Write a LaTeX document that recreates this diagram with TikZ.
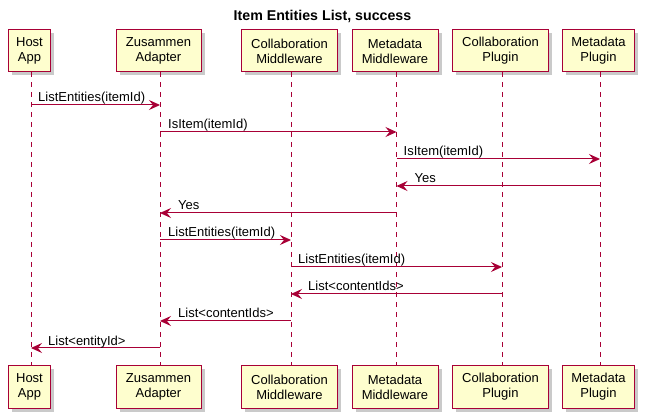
\documentclass[tikz,border=0pt]{standalone}
\usepackage{fontspec}
\setmainfont{Liberation Sans}
\usetikzlibrary{arrows.meta,shadows}
\definecolor{pred}{HTML}{A80036}
\definecolor{pfill}{HTML}{FEFECE}
\begin{document}
\begin{tikzpicture}[x=1pt,y=-1pt,
  part/.style={draw=pred, fill=pfill, line width=1pt, minimum height=42pt, inner sep=0pt,
    align=center, font=\fontsize{13}{15}\selectfont,
    general shadow={fill=black!35, opacity=.6, shadow xshift=3.5pt, shadow yshift=-3.5pt}},
  life/.style={draw=pred, line width=0.8pt, dash pattern=on 5pt off 5pt},
  msg/.style={draw=pred, line width=1pt, -{Stealth[length=11pt,width=10pt,inset=4pt]}},
  lbl/.style={font=\fontsize{13}{15}\selectfont, inner sep=0pt, anchor=base west}]
\useasboundingbox (0,0) rectangle (645,419);
\node[font=\bfseries\fontsize{14.2}{16}\selectfont] (title) at (322.5,16) {Item Entities List, success};
% top participants
\node[part, minimum width=42pt] (hT) at (29.5,51) {Host\\App};
\node[part, minimum width=85pt] (zT) at (158.5,51) {Zusammen\\Adapter};
\node[part, minimum width=96pt] (cmT) at (289.5,51) {Collaboration\\Middleware};
\node[part, minimum width=86pt] (mmT) at (395,51) {Metadata\\Middleware};
\node[part, minimum width=96pt] (cpT) at (500.5,51) {Collaboration\\Plugin};
\node[part, minimum width=72pt] (mpT) at (598.5,51) {Metadata\\Plugin};
% bottom participants
\node[part, minimum width=42pt] (hB) at (29.5,387) {Host\\App};
\node[part, minimum width=85pt] (zB) at (158.5,387) {Zusammen\\Adapter};
\node[part, minimum width=96pt] (cmB) at (289.5,387) {Collaboration\\Middleware};
\node[part, minimum width=86pt] (mmB) at (395,387) {Metadata\\Middleware};
\node[part, minimum width=96pt] (cpB) at (500.5,387) {Collaboration\\Plugin};
\node[part, minimum width=72pt] (mpB) at (598.5,387) {Metadata\\Plugin};
% lifelines
\foreach \p in {h,z,cm,mm,cp,mp}{
  \draw[life] ([xshift=1.5pt]\p T.south) -- ([xshift=1.5pt]\p B.north);
}
% lifeline x positions
\coordinate (H) at (31,0);
\coordinate (Z) at (160,0);
\coordinate (CM) at (291,0);
\coordinate (MM) at (396.5,0);
\coordinate (CP) at (502,0);
\coordinate (MP) at (600,0);
% messages
\draw[msg] (H |- 0,105) -- (Z |- 0,105);
\node[lbl] (m1) at ([xshift=7pt]H |- 0,102) {ListEntities(itemId)};
\draw[msg] (Z |- 0,132) -- (MM |- 0,132);
\node[lbl] (m2) at ([xshift=8pt]Z |- 0,129) {IsItem(itemId)};
\draw[msg] (MM |- 0,159) -- (MP |- 0,159);
\node[lbl] (m3) at ([xshift=7pt]MM |- 0,156) {IsItem(itemId)};
\draw[msg] (MP |- 0,186) -- (MM |- 0,186);
\node[lbl] (m4) at ([xshift=18pt]MM |- 0,183) {Yes};
\draw[msg] (MM |- 0,213) -- (Z |- 0,213);
\node[lbl] (m5) at ([xshift=18pt]Z |- 0,210) {Yes};
\draw[msg] (Z |- 0,240) -- (CM |- 0,240);
\node[lbl] (m6) at ([xshift=8pt]Z |- 0,237) {ListEntities(itemId)};
\draw[msg] (CM |- 0,267) -- (CP |- 0,267);
\node[lbl] (m7) at ([xshift=7pt]CM |- 0,264) {ListEntities(itemId)};
\draw[msg] (CP |- 0,294) -- (CM |- 0,294);
\node[lbl] (m8) at ([xshift=17pt]CM |- 0,291) {List<contentIds>};
\draw[msg] (CM |- 0,321) -- (Z |- 0,321);
\node[lbl] (m9) at ([xshift=18pt]Z |- 0,318) {List<contentIds>};
\draw[msg] (Z |- 0,348) -- (H |- 0,348);
\node[lbl] (m10) at ([xshift=17pt]H |- 0,345) {List<entityId>};
\end{tikzpicture}
\end{document}
